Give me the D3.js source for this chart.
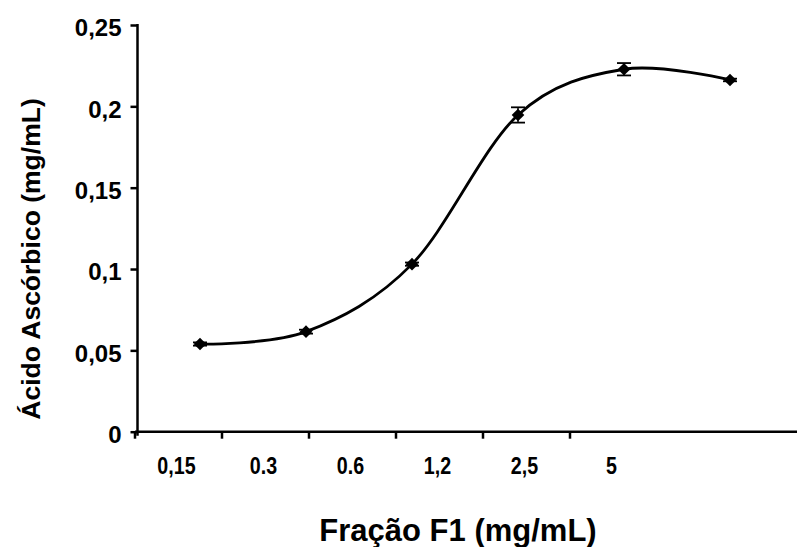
<!DOCTYPE html>
<head>
<meta charset="utf-8">
<script src="https://cdn.jsdelivr.net/npm/d3@7"></script>
<style>
body { margin: 0; background: #fff; }
text { font-family: "Liberation Sans", Arial, sans-serif; font-weight: bold; fill: #000; }
</style>
</head>
<body>
<script>

// Dados
var categorias = ["0,15", "0.3", "0.6", "1,2", "2,5", "5"];
var acido = [0.0539, 0.0615, 0.103, 0.1947, 0.2228, 0.2162];
var erro = [0.0010, 0.0012, 0.0010, 0.0047, 0.0038, 0.0008];
var yTicks = [0, 0.05, 0.1, 0.15, 0.2, 0.25];
var yTickLabels = ["0", "0,05", "0,1", "0,15", "0,2", "0,25"];

var width = 797;
var height = 547;

var svg = d3.select("body")
			.append("svg")
			.attr("width", width)
			.attr("height", height);

var y = d3.scaleLinear().domain([0, 0.25]).range([431.7, 25]);
// eixo de categorias (rótulos) e posição dos pontos
var xEixo = d3.scaleBand().domain(categorias).range([135, 657]);
var xPts = d3.scalePoint().domain(categorias).range([200, 730]);

var dados = categorias.map(function (c, i) {
	return {cat: c, v: acido[i], e: erro[i]};
});

//Eixo Y
var eixoY = svg.append("g")
		.attr("transform", "translate(137.5,0)")
		.call(d3.axisLeft(y)
			.tickValues(yTicks)
			.tickFormat(function (d, i) { return yTickLabels[i]; })
			.tickSize(7)
			.tickSizeOuter(0)
			.tickPadding(9));
eixoY.select(".domain").attr("stroke-width", 2.5).attr("d", "M0," + (y(0.25) - 1) + "V" + (y(0) + 4));
eixoY.selectAll(".tick line").attr("stroke-width", 2.5);
eixoY.selectAll(".tick text")
		.style("font-size", "24px")
		.style("font-family", "Liberation Sans, Arial, sans-serif")
		.style("font-weight", "bold")
		.attr("dy", "0.45em");

//Eixo X
svg.append("line")
		.attr("x1", 135).attr("x2", width)
		.attr("y1", y(0)).attr("y2", y(0))
		.attr("stroke", "#000").attr("stroke-width", 2.5);

svg.append("g").selectAll("line")
		.data(categorias)
		.enter().append("line")
		.attr("x1", function (d) { return xEixo(d); })
		.attr("x2", function (d) { return xEixo(d); })
		.attr("y1", y(0))
		.attr("y2", y(0) + 7)
		.attr("stroke", "#000").attr("stroke-width", 2.5);

svg.append("g").selectAll("text")
		.data(categorias)
		.enter().append("text")
		.attr("text-anchor", "middle")
		.attr("transform", function (d) {
			return "translate(" + (xEixo(d) + xEixo.bandwidth() / 2 - 2) + ",474) scale(0.82,1)";
		})
		.style("font-size", "24px")
		.text(function (d) { return d; });

//Linha suavizada
var linha = d3.line()
		.x(function (d) { return xPts(d.cat); })
		.y(function (d) { return y(d.v); })
		.curve(d3.curveCatmullRom.alpha(0));

svg.append("path")
		.datum(dados)
		.attr("d", linha)
		.attr("fill", "none")
		.attr("stroke", "#000")
		.attr("stroke-width", 2.8);

//Barras de erro
var barras = svg.append("g").selectAll("g")
		.data(dados)
		.enter().append("g");
barras.append("line")
		.attr("x1", function (d) { return xPts(d.cat); })
		.attr("x2", function (d) { return xPts(d.cat); })
		.attr("y1", function (d) { return y(d.v + d.e); })
		.attr("y2", function (d) { return y(d.v - d.e); })
		.attr("stroke", "#000").attr("stroke-width", 1.5);
barras.selectAll("line.cap")
		.data(function (d) { return [{cat: d.cat, v: d.v + d.e}, {cat: d.cat, v: d.v - d.e}]; })
		.enter().append("line")
		.attr("class", "cap")
		.attr("x1", function (d) { return xPts(d.cat) - 7; })
		.attr("x2", function (d) { return xPts(d.cat) + 7; })
		.attr("y1", function (d) { return y(d.v); })
		.attr("y2", function (d) { return y(d.v); })
		.attr("stroke", "#000").attr("stroke-width", 1.8);

//Marcadores (losangos)
svg.append("g").selectAll("path")
		.data(dados)
		.enter().append("path")
		.attr("d", d3.symbol(d3.symbolSquare, 80))
		.attr("transform", function (d) {
			return "translate(" + xPts(d.cat) + "," + y(d.v) + ") rotate(45)";
		})
		.attr("fill", "#000");

//Títulos
svg.append("text")
		.attr("text-anchor", "middle")
		.attr("x", 458)
		.attr("y", 541)
		.style("font-size", "31px")
		.text("Fração F1 (mg/mL)");

svg.append("text")
		.attr("text-anchor", "middle")
		.attr("transform", "translate(40,259) rotate(-90)")
		.style("font-size", "26.5px")
		.text("Ácido Ascórbico (mg/mL)");

</script>
</body>
</html>
